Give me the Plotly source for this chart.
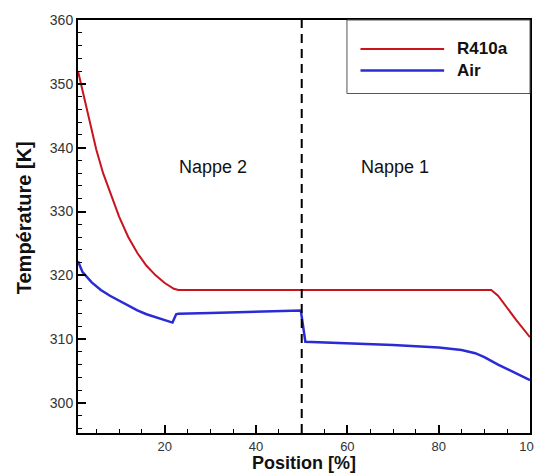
import plotly.graph_objects as go

# ---- data ----
r410a_x = [1, 2, 3.5, 5, 6.5, 8, 10, 12, 14, 16, 18, 20, 22, 23, 50, 91.5, 93, 95, 97, 100]
r410a_y = [352, 348.8, 344, 339.7, 336, 333, 329.2, 326, 323.5, 321.5, 320, 318.8, 317.9, 317.7,
           317.7, 317.7, 316.8, 314.8, 313.0, 310.3]

air_x = [1, 2, 4, 6, 8, 10, 12, 14, 16, 18, 20, 21.7, 22.5, 23, 30, 40, 49.8, 50.8,
         60, 70, 80, 85, 88, 90, 93, 96, 100]
air_y = [322.2, 320.5, 318.9, 317.7, 316.8, 316.0, 315.2, 314.5, 313.9, 313.4, 313.0, 312.6,
         313.9, 314.0, 314.1, 314.3, 314.5, 309.6, 309.4, 309.1, 308.7, 308.3, 307.8, 307.2,
         306.0, 305.0, 303.6]

divider_x = 50
zone_labels = ["Nappe 2", "Nappe 1"]
zone_label_x = [30.5, 70.5]
zone_label_y = [337, 337]

x_ticks = [20, 40, 60, 80, 100]
y_ticks = [300, 310, 320, 330, 340, 350, 360]

red = "#c8141e"
blue = "#2b2bd6"
font = "Liberation Sans, Arial, sans-serif"

fig = go.Figure()
fig.add_trace(go.Scatter(x=r410a_x, y=r410a_y, mode="lines", name="R410a",
                         line=dict(color=red, width=2), showlegend=False))
fig.add_trace(go.Scatter(x=air_x, y=air_y, mode="lines", name="Air",
                         line=dict(color=blue, width=2.5), showlegend=False))

# vertical dashed separator
fig.add_shape(type="line", xref="x", yref="paper", x0=divider_x, x1=divider_x, y0=0, y1=1,
              line=dict(color="black", width=2, dash="9px,6px"))

for txt, xx, yy in zip(zone_labels, zone_label_x, zone_label_y):
    fig.add_annotation(x=xx, y=yy, text=txt, showarrow=False,
                       font=dict(family=font, size=18, color="#111"))

# custom legend box (decoration)
fig.add_shape(type="rect", xref="paper", yref="paper", x0=0.595, x1=1.0, y0=0.822, y1=1.0,
              line=dict(color="#555", width=1), fillcolor="white", layer="above")
fig.add_shape(type="line", xref="paper", yref="paper", x0=0.625, x1=0.81, y0=0.93, y1=0.93,
              line=dict(color=red, width=2))
fig.add_shape(type="line", xref="paper", yref="paper", x0=0.625, x1=0.81, y0=0.878, y1=0.878,
              line=dict(color=blue, width=2.5))
fig.add_annotation(xref="paper", yref="paper", x=0.835, y=0.93, text="<b>R410a</b>",
                   showarrow=False, xanchor="left", yanchor="middle",
                   font=dict(family=font, size=17, color="#111"))
fig.add_annotation(xref="paper", yref="paper", x=0.835, y=0.878, text="<b>Air</b>",
                   showarrow=False, xanchor="left", yanchor="middle",
                   font=dict(family=font, size=17, color="#111"))

# axis titles as annotations for precise placement
fig.add_annotation(xref="paper", yref="paper", x=0.5, y=0, yshift=-30, yanchor="middle",
                   text="<b>Position [%]</b>", showarrow=False,
                   font=dict(family=font, size=18, color="#111"))
fig.add_annotation(xref="paper", yref="paper", x=0, y=0.52, xshift=-54, xanchor="center",
                   text="<b>Température [K]</b>", showarrow=False, textangle=-90,
                   font=dict(family=font, size=20, color="#111"))

axis_common = dict(showgrid=False, zeroline=False, showline=True, linecolor="black", linewidth=2,
                   mirror=True, ticks="inside", ticklen=8, tickwidth=2, tickcolor="black",
                   automargin=False, ticklabeloverflow="allow")

fig.update_xaxes(range=[1, 100], tickvals=x_ticks,
                 tickfont=dict(family=font, size=13, color="#333"),
                 minor=dict(dtick=5, ticks="inside", ticklen=4, tickwidth=1, tickcolor="black"),
                 **axis_common)
fig.update_yaxes(range=[295.3, 360], tickvals=y_ticks,
                 tickfont=dict(family=font, size=14, color="#333"),
                 minor=dict(dtick=2, ticks="inside", ticklen=4, tickwidth=1, tickcolor="black"),
                 **axis_common)

# page body has an 8px margin, so the figure is sized to fill the rest of the window
fig.update_layout(width=534, height=465, margin=dict(l=70, r=12, t=12, b=40),
                  plot_bgcolor="white", paper_bgcolor="white", showlegend=False)

fig.write_html("out.html")
